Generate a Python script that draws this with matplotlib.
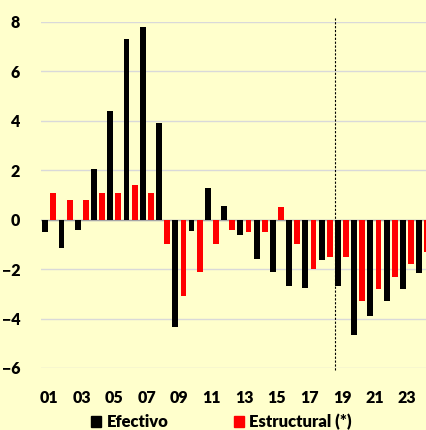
import numpy as np
import matplotlib
matplotlib.use("Agg")
import matplotlib.pyplot as plt
from matplotlib.patches import Patch

plt.rcParams['font.family'] = ['Lato', 'DejaVu Sans']
plt.rcParams['font.weight'] = 'heavy'

years = np.arange(1, 25)
efectivo = [-0.5, -1.15, -0.43, 2.05, 4.4, 7.3, 7.8, 3.9, -4.35, -0.45, 1.3, 0.55,
            -0.6, -1.6, -2.1, -2.7, -2.75, -1.65, -2.7, -4.65, -3.9, -3.3, -2.8, -2.15]
estructural = [1.09, 0.81, 0.81, 1.09, 1.09, 1.4, 1.09, -1.0, -3.1, -2.1, -1.0, -0.4,
               -0.5, -0.5, 0.5, -1.0, -2.0, -1.5, -1.5, -3.3, -2.8, -2.3, -1.8, -1.3]
tick_years = years[::2]
tick_labels = ['%02d' % y for y in tick_years]

bg = '#FFFFCC'
fig = plt.figure(figsize=(4.27, 4.30), dpi=100, facecolor=bg)
ax = fig.add_axes([41/427, 62/430, 386/427, 346/430], facecolor=bg)

w = 0.36
ax.bar(years - 0.25, efectivo, width=w, color='black', zorder=3)
ax.bar(years + 0.25, estructural, width=w, color='#FF0000', zorder=3)

ax.set_xlim(0.49, 24.23)
ax.set_ylim(-6, 8)
ax.set_yticks(np.arange(-6, 9, 2))
for y in np.arange(-6, 9, 2):
    ax.axhline(y, color='#D9D9D9', lw=1.0, zorder=1)
ax.axhline(0, color='#A6A6A6', lw=1.0, zorder=2)

# dashed line before 2019
ax.vlines(18.55, -6.1, 8.15, colors='black', linestyles=(0, (2, 1.5)), lw=0.8,
          zorder=4, clip_on=False)

ax.set_xticks(tick_years)
ax.set_xticklabels(tick_labels)
ax.tick_params(axis='both', length=0, labelsize=11.5)
ax.tick_params(axis='x', pad=16)
ax.tick_params(axis='y', pad=15)
for s in ax.spines.values():
    s.set_visible(False)

handles = [Patch(color='black', label='Efectivo'),
           Patch(color='#FF0000', label='Estructural (*)')]
fig.legend(handles=handles, loc='center', bbox_to_anchor=(221.5/427, 1 - 422/430),
           ncol=2, frameon=False, fontsize=12, handlelength=0.6, handleheight=0.6,
           handletextpad=0.35, columnspacing=3.9, borderaxespad=0)

fig.savefig('out.png', dpi=100, facecolor=bg)
